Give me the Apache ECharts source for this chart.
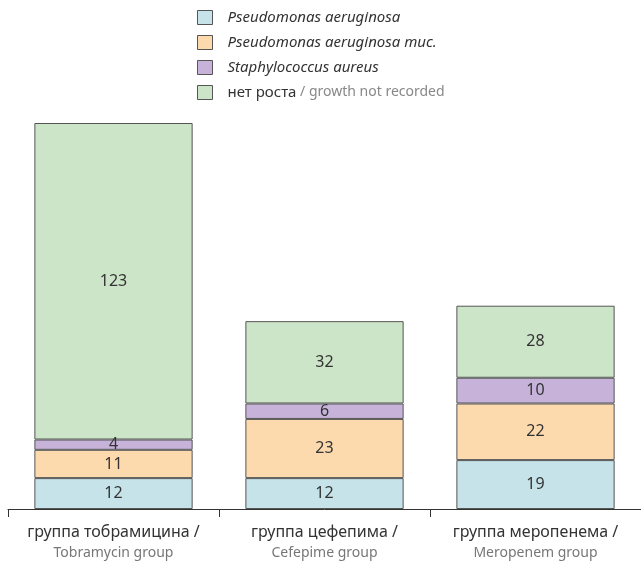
<!DOCTYPE html>
<html>
<head>
<meta charset="utf-8">
<script src="https://cdn.jsdelivr.net/npm/echarts@6/dist/echarts.min.js"></script>
<style>
  html, body { margin: 0; padding: 0; background: #fff; }
  #chart { width: 641px; height: 561px; }
</style>
</head>
<body>
<div id="chart"></div>
<script>
var groupsRu = ["группа тобрамицина", "группа цефепима", "группа меропенема"];
var groupsEn = ["Tobramycin group", "Cefepime group", "Meropenem group"];

var seriesNames = ["Pseudomonas aeruginosa", "Pseudomonas aeruginosa muc.", "Staphylococcus aureus", "нет роста"];
var pseudomonas = [12, 12, 19];
var pseudomonasMuc = [11, 23, 22];
var staphylococcus = [4, 6, 10];
var noGrowth = [123, 32, 28];

var colors = ["#c5e3e8", "#fdd9ae", "#c7b3d9", "#cce5c8"];

var chartDom = document.getElementById("chart");
var chart = echarts.init(chartDom);

var font = "'Noto Sans', 'DejaVu Sans', sans-serif";

function makeSeries(name, values, color) {
  return {
    name: name,
    type: "bar",
    stack: "total",
    barWidth: "75%",
    data: values,
    itemStyle: { color: color, borderColor: "#555", borderWidth: 1 },
    label: {
      show: true,
      position: "inside",
      color: "#333",
      fontSize: 16,
      fontFamily: font,
    },
    emphasis: { disabled: true },
  };
}

var option = {
  animation: false,
  textStyle: { fontFamily: font },
  legend: {
    orient: "vertical",
    left: 192,
    top: 5,
    itemWidth: 15,
    itemHeight: 14,
    itemGap: 10,
    icon: "rect",
    selectedMode: false,
    data: seriesNames,
    itemStyle: { borderColor: "#555", borderWidth: 1 },
    textStyle: {
      fontSize: 15,
      color: "#333",
      fontStyle: "italic",
      fontFamily: font,
      padding: [0, 0, 0, 10],
      rich: {
        ru: { fontSize: 15, color: "#333", fontStyle: "normal", fontFamily: font },
        en: { fontSize: 14, color: "#888", fontStyle: "normal", fontFamily: font },
      },
    },
    formatter: function (name) {
      if (name === "нет роста") return "{ru|нет роста}{en| / growth not recorded}";
      return name;
    },
  },
  grid: { left: 8, right: 0, top: 123, bottom: 52 },
  xAxis: {
    type: "category",
    data: groupsRu,
    axisLine: { lineStyle: { color: "#333", width: 1 } },
    axisTick: { show: true, length: 8, lineStyle: { color: "#333" } },
    axisLabel: {
      margin: 13,
      interval: 0,
      formatter: function (value, idx) {
        return "{ru|" + value + " /}\n{en|" + groupsEn[idx] + "}";
      },
      rich: {
        ru: { fontSize: 16, color: "#333", fontFamily: font, lineHeight: 21 },
        en: { fontSize: 14, color: "#777", fontFamily: font, lineHeight: 20 },
      },
    },
  },
  yAxis: {
    type: "value",
    min: 0,
    max: 150,
    show: false,
    splitLine: { show: false },
  },
  series: [
    makeSeries(seriesNames[0], pseudomonas, colors[0]),
    makeSeries(seriesNames[1], pseudomonasMuc, colors[1]),
    makeSeries(seriesNames[2], staphylococcus, colors[2]),
    makeSeries(seriesNames[3], noGrowth, colors[3]),
  ],
};

chart.setOption(option);
</script>
</body>
</html>
